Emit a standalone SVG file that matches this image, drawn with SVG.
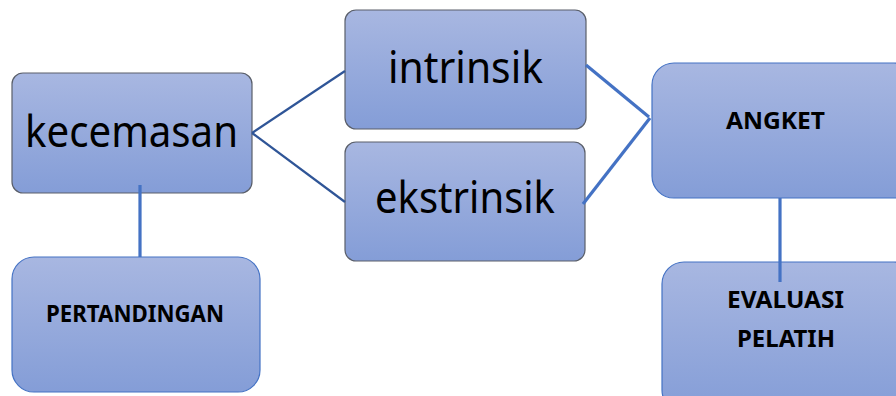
<svg xmlns="http://www.w3.org/2000/svg" width="896" height="396" viewBox="0 0 896 396">
<defs>
<linearGradient id="g" x1="0" y1="0" x2="0" y2="1">
<stop offset="0" stop-color="#a8b7e1"/>
<stop offset="1" stop-color="#849dd7"/>
</linearGradient>
<style>
.bx{fill:url(#g);stroke:#5a5f6a;stroke-width:1.2}
.bb{fill:url(#g);stroke:#4472c4;stroke-width:1.2}
.big{font-family:"Noto Sans","Open Sans",sans-serif;font-size:43px;fill:#000}
.bold{font-family:"Noto Sans","Open Sans",sans-serif;font-size:23px;font-weight:bold;fill:#000}
.c1{stroke:#2f5597;stroke-width:2.2;fill:none}
.c2{stroke:#4472c4;stroke-width:3.2;fill:none}
</style>
</defs>
<rect width="896" height="396" fill="#fff"/>
<g id="kecemasan">
<rect class="bx" x="12" y="73" width="240" height="120" rx="11"/>
<text class="big" x="131.5" y="147" text-anchor="middle" textLength="213" lengthAdjust="spacingAndGlyphs">kecemasan</text>
</g>
<g id="intrinsik">
<rect class="bx" x="345" y="10" width="241" height="119" rx="11"/>
<text class="big" x="465.5" y="83" text-anchor="middle" textLength="155" lengthAdjust="spacingAndGlyphs">intrinsik</text>
</g>
<g id="ekstrinsik">
<rect class="bx" x="345" y="142" width="240" height="119" rx="11"/>
<text class="big" x="465" y="213" text-anchor="middle" textLength="180" lengthAdjust="spacingAndGlyphs">ekstrinsik</text>
</g>
<g id="pertandingan">
<rect class="bb" x="12" y="257" width="248" height="135" rx="22"/>
<text class="bold" x="135" y="322" text-anchor="middle" textLength="178" lengthAdjust="spacingAndGlyphs">PERTANDINGAN</text>
</g>
<g id="angket">
<rect class="bb" x="652" y="63" width="264" height="135" rx="22"/>
<text class="bold" x="775.5" y="129" text-anchor="middle" textLength="99" lengthAdjust="spacingAndGlyphs">ANGKET</text>
</g>
<g id="evaluasi">
<rect class="bb" x="662" y="262" width="254" height="150" rx="22"/>
<text class="bold" x="785.5" y="308" text-anchor="middle" textLength="117" lengthAdjust="spacingAndGlyphs">EVALUASI</text>
<text class="bold" x="786" y="347" text-anchor="middle" textLength="98" lengthAdjust="spacingAndGlyphs">PELATIH</text>
</g>
<g id="connectors">
<line class="c1" x1="252" y1="133" x2="345" y2="71"/>
<line class="c1" x1="252" y1="133" x2="345" y2="202"/>
<line class="c2" x1="586" y1="65" x2="649" y2="117"/>
<line class="c2" x1="583" y1="204" x2="650" y2="118"/>
<line class="c2" x1="140" y1="185" x2="140" y2="257"/>
<line class="c2" x1="780" y1="198" x2="780" y2="282"/>
</g>
</svg>
